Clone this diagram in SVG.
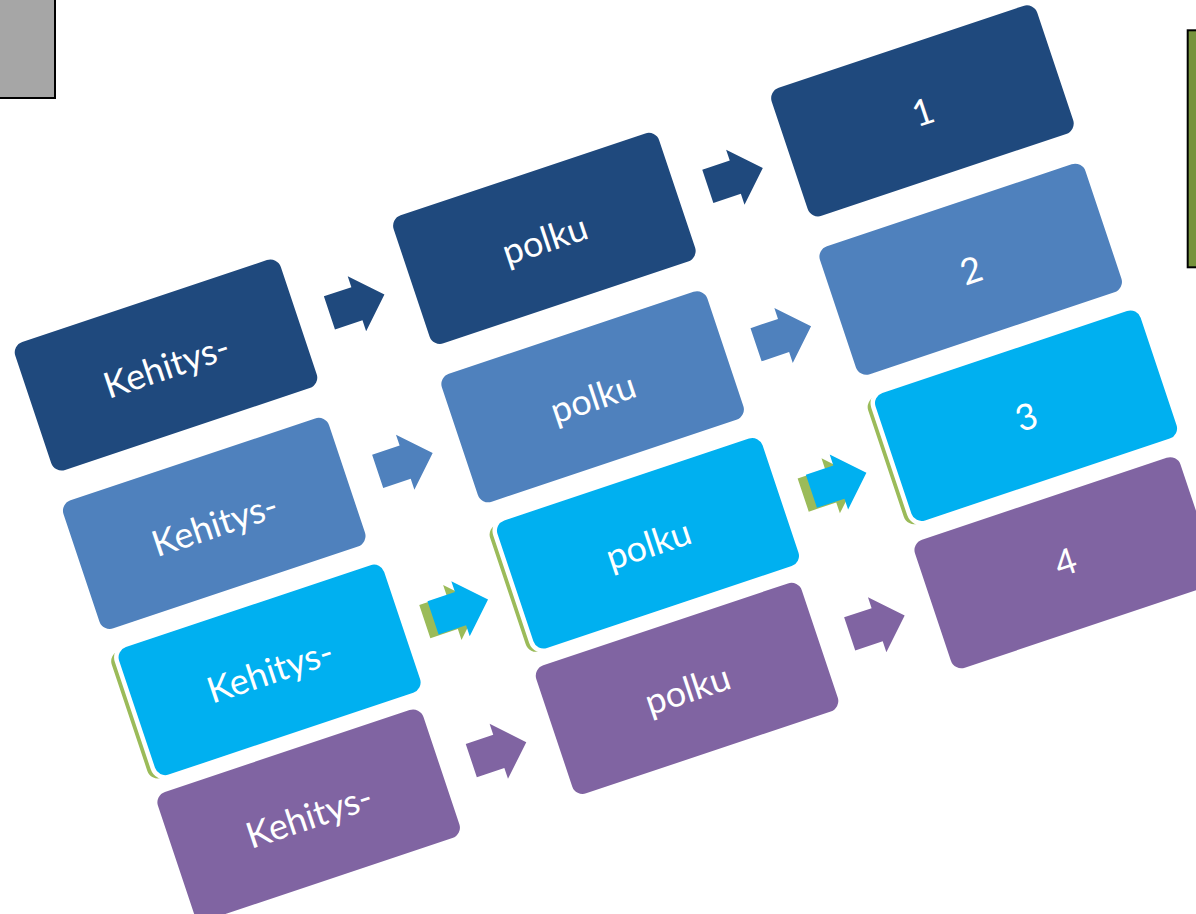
<svg xmlns="http://www.w3.org/2000/svg" xmlns:xlink="http://www.w3.org/1999/xlink" width="1196" height="914" viewBox="0 0 1196 914">
<style>
.lbl{font-family:Lato,"Open Sans","DejaVu Sans",sans-serif;font-size:36px;fill:#fff;text-anchor:middle}
.c1{fill:#1F497D}.c2{fill:#4F81BD}.c3{fill:#00B0F0}.c4{fill:#8064A2}.sh{fill:#9BBB59}
.cy{fill:#00B0F0;stroke:#fff;stroke-width:4.5}
</style>
<defs>
<rect id="box" x="-140" y="-67.5" width="280" height="135" rx="11"/>
<rect id="boxc" x="-142" y="-69.5" width="284" height="139" rx="13"/>
<rect id="boxs" x="-148" y="-66" width="280" height="134" rx="11"/>
<polygon id="arr" points="-29,-17.5 0,-17.5 0,-29 29,0 0,29 0,17.5 -29,17.5"/>
</defs>
<rect width="1196" height="914" fill="#fff"/>
<g id="corner-box"><rect x="-5" y="-5" width="60" height="103" fill="#A6A6A6" stroke="#000" stroke-width="2"/></g>
<g id="side-box"><rect x="1187.7" y="30.3" width="20" height="237" fill="#77933C" stroke="#000" stroke-width="2"/></g>
<g transform="translate(166,365) rotate(-18.5)">
<g id="connectors">
<use xlink:href="#arr" x="200.5" y="2.5" class="c1"/>
<use xlink:href="#arr" x="599.5" y="2.5" class="c1"/>
<use xlink:href="#arr" x="196" y="168" class="c2"/>
<use xlink:href="#arr" x="595" y="168" class="c2"/>
<use xlink:href="#arr" x="193" y="325.5" class="sh"/>
<use xlink:href="#arr" x="202" y="324.5" class="c3"/>
<use xlink:href="#arr" x="592" y="325.5" class="sh"/>
<use xlink:href="#arr" x="601" y="324.5" class="c3"/>
<use xlink:href="#arr" x="193" y="472" class="c4"/>
<use xlink:href="#arr" x="592" y="472" class="c4"/>
</g>
<g id="k1" transform="translate(0,0)"><use xlink:href="#box" class="c1"/><text class="lbl" y="14">Kehitys-</text></g>
<g id="p1" transform="translate(399,0)"><use xlink:href="#box" class="c1"/><text class="lbl" y="14">polku</text></g>
<g id="n1" transform="translate(798,-1)"><use xlink:href="#box" class="c1"/><text class="lbl" y="14">1</text></g>
<g id="k2" transform="translate(-4.5,165.5)"><use xlink:href="#box" class="c2"/><text class="lbl" y="14">Kehitys-</text></g>
<g id="p2" transform="translate(394.5,165.5)"><use xlink:href="#box" class="c2"/><text class="lbl" y="14">polku</text></g>
<g id="n2" transform="translate(793.5,164.5)"><use xlink:href="#box" class="c2"/><text class="lbl" y="14">2</text></g>
<g id="k3" transform="translate(1.5,322)"><use xlink:href="#boxs" class="sh"/><use xlink:href="#boxc" class="cy"/><text class="lbl" y="14">Kehitys-</text></g>
<g id="p3" transform="translate(400.5,322)"><use xlink:href="#boxs" class="sh"/><use xlink:href="#boxc" class="cy"/><text class="lbl" y="14">polku</text></g>
<g id="n3" transform="translate(799.5,321)"><use xlink:href="#boxs" class="sh"/><use xlink:href="#boxc" class="cy"/><text class="lbl" y="14">3</text></g>
<g id="k4" transform="translate(-7.5,472)"><use xlink:href="#box" class="c4"/><text class="lbl" y="14">Kehitys-</text></g>
<g id="p4" transform="translate(391.5,472)"><use xlink:href="#box" class="c4"/><text class="lbl" y="14">polku</text></g>
<g id="n4" transform="translate(790.5,473)"><use xlink:href="#box" class="c4"/><text class="lbl" y="12">4</text></g>
</g>
</svg>
